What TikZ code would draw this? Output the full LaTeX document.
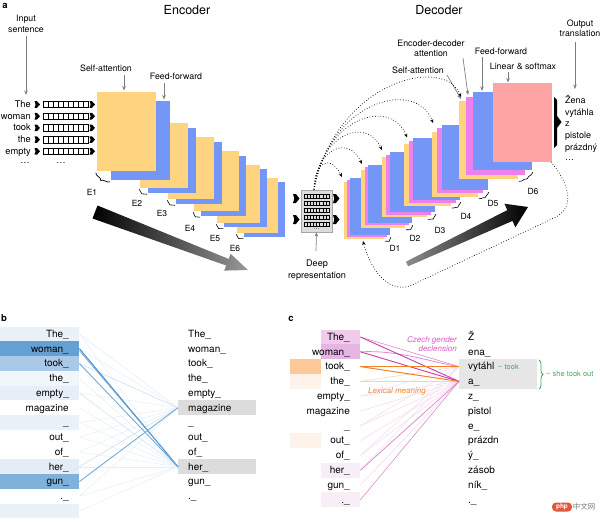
\documentclass[tikz,border=0pt]{standalone}
\usepackage{fontspec}
\setmainfont{TeX Gyre Heros}
\newfontfamily\cjkf{Noto Sans CJK SC}
\usetikzlibrary{decorations.pathreplacing,arrows.meta}
\definecolor{orangec}{HTML}{FFD480}
\definecolor{bluec}{HTML}{7396F7}
\definecolor{magc}{HTML}{EE80EE}
\definecolor{pinkc}{HTML}{FFA4A4}
\definecolor{arrg}{HTML}{7F7F7F}
\definecolor{deepg}{HTML}{DCDCDC}
\definecolor{hlg}{HTML}{DCDCDC}
\definecolor{bA}{HTML}{EAF2F9}
\definecolor{bB}{HTML}{64A0D2}
\definecolor{bC}{HTML}{AAC9E7}
\definecolor{bD}{HTML}{F1F6FB}
\definecolor{bE}{HTML}{E6EEF7}
\definecolor{bF}{HTML}{E4EDF6}
\definecolor{bG}{HTML}{80B1DB}
\definecolor{lnS}{HTML}{4D8FC7}
\definecolor{lnM}{HTML}{74AAD7}
\definecolor{lnL}{HTML}{CCE0F1}
\definecolor{lnF}{HTML}{E3EEF8}
\definecolor{mgS}{HTML}{C43FA8}
\definecolor{mgM}{HTML}{DE8ACF}
\definecolor{mgL}{HTML}{F5D5EF}
\definecolor{orS}{HTML}{F08228}
\definecolor{orL}{HTML}{F9D2B0}
\definecolor{cM1}{HTML}{F0CBEC}
\definecolor{cM2}{HTML}{E7B5E3}
\definecolor{cM3}{HTML}{F8EEF8}
\definecolor{cO1}{HTML}{FDC898}
\definecolor{cO2}{HTML}{FEF3EA}
\definecolor{grn}{HTML}{3DAA5A}
\definecolor{czm}{HTML}{D65CC3}
\definecolor{lxo}{HTML}{EE8A34}
\definecolor{phpred}{HTML}{E2553F}
\tikzset{
 lbl/.style={inner sep=0pt, font=\fontsize{8.8}{10}\selectfont},
 wordA/.style={inner sep=0pt, font=\fontsize{9.3}{10}\selectfont},
 wordB/.style={inner sep=0pt, font=\fontsize{10}{11}\selectfont},
 smalltxt/.style={inner sep=0pt, font=\fontsize{8.5}{9}\selectfont},
 panel/.style={inner sep=0pt, font=\bfseries\fontsize{9.5}{10}\selectfont},
 garrow/.style={draw=arrg, line width=0.7pt, -{Stealth[length=4.5pt,width=3.5pt]}},
 dotarr/.style={draw=black, line width=0.7pt, dotted, -{Stealth[length=4pt,width=3.5pt]}},
 ebrace/.style={draw=black, line width=0.6pt, decorate, decoration={brace, amplitude=2.5pt, raise=1.5pt}},
 bigbrace/.style={draw=black, line width=0.7pt, decorate, decoration={brace, amplitude=4pt, raise=2pt}},
}
\newcommand\enclayer[6]{%
  \fill[bluec] ({#1+#5},{#2+#6}) rectangle (#3,#4);
  \fill[orangec] (#1,#2) rectangle ({#3-#5},{#4-#6});
}
\newcommand\declayer[5]{%
  \fill[orangec] ({#1-2*#5},{#2+1.3*#5}) rectangle ({#3-2*#5},{#4+1.3*#5});
  \fill[magc] ({#1-#5},{#2+0.65*#5}) rectangle ({#3-#5},{#4+0.65*#5});
  \fill[bluec] (#1,#2) rectangle (#3,#4);
  \draw[ebrace] (#3,{#4+1}) -- ({#3-2*#5},{#4+1.3*#5+1});
}
\newcommand\blk[4]{%
  \fill (#1,{#2-#3}) -- ({#1+0.45*#4},{#2-#3}) -- ({#1+#4},#2) -- ({#1+0.45*#4},{#2+#3}) -- (#1,{#2+#3}) -- ({#1+0.2*#4},#2) -- cycle;}
\newcommand\cellstrip[6]{% x y n-1 w h lw
  \draw[black, line width=#6] (#1,{#2-#5/2}) rectangle ({#1+(#3+1)*#4},{#2+#5/2});
  \foreach \k in {1,...,#3} {\draw[black, line width=#6] ({#1+\k*#4},{#2-#5/2}) -- ({#1+\k*#4},{#2+#5/2});}
}
\begin{document}
\begin{tikzpicture}[x=1pt,y=-1pt]
\useasboundingbox (0,0) rectangle (600,523);

%%%%%%%%%%%% PANEL A %%%%%%%%%%%%
\node[panel,anchor=base] (la) at (5,8) {a};
\node[inner sep=0pt,font=\fontsize{12.5}{14}\selectfont,anchor=base] (enc) at (187,14.5) {Encoder};
\node[inner sep=0pt,font=\fontsize{12.5}{14}\selectfont,anchor=base] (dec) at (439,14.5) {Decoder};

% input sentence
\node[lbl,anchor=base] (inp1) at (26,21.5) {Input};
\node[lbl,anchor=base] (inp2) at (26,32) {sentence};
\coordinate (inpEnd) at (26,95);
\draw[garrow] (26,36) -- (inpEnd);

\foreach \w [count=\i from 0] in {The,woman,took,the,empty} {
  \pgfmathsetmacro\yy{104.5+11.7*\i}
  \node[wordA,anchor=base east] (in\i) at (31,{\yy+3}) {\w};
  \blk{34.5}{\yy}{3.3}{5.5}
  \cellstrip{43}{\yy}{8}{5}{6.5}{0.55pt}
  \blk{89.5}{\yy}{3.3}{5.5}
}
\node[wordA,anchor=base] (dotsA) at (25,163.5) {\dots};
\node[wordA,anchor=base] (dotsB) at (61,163.5) {\dots};

% encoder layers
\enclayer{237}{178}{285}{237}{7}{4}
\enclayer{217}{165}{267}{227}{7}{4}
\enclayer{194}{151}{246}{216}{7}{5}
\enclayer{168}{137}{222}{204}{8}{5}
\enclayer{140}{123}{196}{193}{8}{5}
\enclayer{97}{92}{170}{180}{14}{9}
\draw[ebrace] (244,237) -- (237,233);
\draw[ebrace] (224,227) -- (217,223);
\draw[ebrace] (201,216) -- (194,211);
\draw[ebrace] (176,204) -- (168,199);
\draw[ebrace] (148,193) -- (140,188);
\draw[bigbrace] (111,180) -- (97,171);
\node[smalltxt,anchor=base] (E1) at (92,195) {E1};
\node[smalltxt,anchor=base] (E2) at (137,206) {E2};
\node[smalltxt,anchor=base] (E3) at (162,216) {E3};
\node[smalltxt,anchor=base] (E4) at (190,231) {E4};
\node[smalltxt,anchor=base] (E5) at (215,241) {E5};
\node[smalltxt,anchor=base] (E6) at (235,251) {E6};

\node[lbl,anchor=base] (esa) at (106,71) {Self-attention};
\node[lbl,anchor=base] (eff) at (176,79) {Feed-forward};
\coordinate (esaT) at (124,90.5);
\coordinate (effT) at (164,99.5);
\draw[garrow] (124,75) -- (esaT);
\draw[garrow] (164,82.5) -- (effT);

% encoder gradient arrow
\shade[left color=black, right color=black!40] (97.5,205.5) -- (228.6,258.9) -- (230.6,253.8) -- (248,270) -- (224.2,270.6) -- (226.2,265.5) -- (92.5,218.5) -- cycle;

% deep representation
\blk{293}{198.5}{4.5}{6.5}
\blk{293}{219.5}{4.5}{6.5}
\node[draw=gray!70, fill=deepg, line width=0.4pt, minimum width=31pt, minimum height=42pt, inner sep=0pt] (deep) at (316.5,211) {};
\foreach \j in {0,...,4} {\cellstrip{304}{196+7*\j}{7}{3.125}{4}{0.4pt}}
\node[inner sep=0pt,font=\fontsize{6}{6}\selectfont,anchor=base] (ddots) at (316.5,229.5) {\dots};
\blk{333}{198.5}{4.5}{6.5}
\blk{333}{219.5}{4.5}{6.5}
\node[lbl,anchor=base,font=\fontsize{9.1}{10}\selectfont] (deep1) at (317,266) {Deep};
\node[lbl,anchor=base,font=\fontsize{9.1}{10}\selectfont] (deep2) at (317,278) {representation};
\draw[garrow] (316,251) -- (deep.south);

% decoder layers (later layers in front)
\declayer{350}{178}{390}{235}{3}
\declayer{368}{165}{412}{223}{3.5}
\declayer{390}{152}{435}{212}{4}
\declayer{413}{138}{460}{200}{4.5}
\declayer{442}{125}{488}{190}{5}
\declayer{473}{92}{532}{170}{7}
\node[fill=pinkc, minimum width=59pt, minimum height=79pt, inner sep=0pt, anchor=north west] (lin) at (492.5,83) {};

\node[smalltxt,anchor=base] (D1) at (395,251) {D1};
\node[smalltxt,anchor=base] (D2) at (415,241) {D2};
\node[smalltxt,anchor=base] (D3) at (440,233) {D3};
\node[smalltxt,anchor=base] (D4) at (466,219) {D4};
\node[smalltxt,anchor=base] (D5) at (493,206) {D5};
\node[smalltxt,anchor=base] (D6) at (533,194) {D6};

% decoder labels
\node[lbl,anchor=base] (eda1) at (431,46) {Encoder-decoder};
\node[lbl,anchor=base] (eda2) at (431,56) {attention};
\node[lbl,anchor=base] (dff) at (501,54) {Feed-forward};
\node[lbl,anchor=base] (lsm) at (523,69) {Linear \& softmax};
\node[lbl,anchor=base] (dsa) at (418,73) {Self-attention};
\coordinate (edaT) at (468,95);
\coordinate (dffT) at (482,91);
\coordinate (dsaT) at (461,99);
\coordinate (lsmT) at (508,82.5);
\draw[garrow] (463,58) -- (edaT);
\draw[garrow] (482,57) -- (dffT);
\draw[garrow] (508,72) -- (lsmT);
\draw[garrow] (447,75) -- (dsaT);

% output
\node[lbl,anchor=base] (out1) at (580,26) {Output};
\node[lbl,anchor=base] (out2) at (580,36) {translation};
\coordinate (outT) at (575,89);
\draw[garrow] (575,42) -- (outT);
\fill (554,97) -- (557,100) -- (557,116) -- (561.5,122) -- (557,128) -- (557,145) -- (554,148) -- cycle;
\foreach \w/\yy in {Žena/103,vytáhla/115,z/126,pistole/138,prázdný/150} {
  \node[wordA,anchor=base west,font=\fontsize{9}{10}\selectfont] at (565,\yy) {\w};
}
\node[wordA,anchor=base west,font=\fontsize{9}{10}\selectfont] (odots) at (565,160.5) {\dots};

% dotted attention arcs
\coordinate (dstart) at (314,189.5);
\coordinate (t1) at (342,177);
\coordinate (t2) at (362,164);
\coordinate (t3) at (382,150);
\coordinate (t4) at (407,137.5);
\coordinate (t5) at (433,123);
\coordinate (t6) at (461,97);
\draw[dotarr] (dstart) .. controls (314,163) and (330,153) .. (t1);
\draw[dotarr] (dstart) .. controls (316,148) and (349,135) .. (t2);
\draw[dotarr] (dstart) .. controls (320,132) and (367,117) .. (t3);
\draw[dotarr] (dstart) .. controls (325,115) and (392,98) .. (t4);
\draw[dotarr] (dstart) .. controls (330,100) and (416,78) .. (t5);
\draw[dotarr] (dstart) .. controls (336,80) and (445,55) .. (t6);
% feedback
\coordinate (fbS) at (551,162);
\coordinate (fbE) at (363,241);
\draw[dotarr] (fbS) .. controls (565,178) and (578,205) .. (556,217) -- (412,285) .. controls (392,294) and (372,275) .. (fbE);

% decoder gradient arrow
\shade[left color=black!45, right color=black] (405.9,261.7) -- (507.3,210.1) -- (504.4,203.7) -- (528,207) -- (515.4,227.3) -- (512.5,220.9) -- (408.1,266.3) -- cycle;

%%%%%%%%%%%% PANEL B %%%%%%%%%%%%
\node[panel,anchor=base] (lb) at (4,321) {b};
\foreach \cc [count=\i from 0] in {bA,bB,bC,bD,bE,white,bA,white,white,bF,bG,white,bA} {
  \node[fill=\cc, minimum width=79pt, minimum height=14.8pt, inner sep=0pt, anchor=west] (bl\i) at (0,{334+14.75*\i}) {};
}
\node[fill=hlg, minimum width=78pt, minimum height=14.75pt, inner sep=0pt, anchor=west] (bM) at (178,{334+14.75*5}) {};
\node[fill=hlg, minimum width=78pt, minimum height=14.75pt, inner sep=0pt, anchor=west] (bH) at (178,{334+14.75*9}) {};
% faint lines
\foreach \i in {0,3,5,6,7,8,9,11,12} {\draw[lnF, line width=0.5pt] (bl\i.east) -- (bH.west);}
\foreach \i in {0,1,4,6,7,8,11} {\draw[lnF, line width=0.5pt] (bl\i.east) -- (bM.west);}
\draw[lnL, line width=0.5pt] (bl4.east) -- (bH.west);
\draw[lnL, line width=0.6pt] (bl2.east) -- (bM.west);
\draw[lnL, line width=0.6pt] (bl9.east) -- (bM.west);
\draw[lnM, line width=0.9pt] (bl10.east) -- (bM.west);
\draw[lnM, line width=0.9pt] (bl2.east) -- (bH.west);
\draw[lnS, line width=1.1pt] (bl1.east) -- (bH.west);
\draw[lnM, line width=0.6pt] ([yshift=-2pt]bl1.east) -- (bH.west);
\foreach \w [count=\i from 0] in {The\_,woman\_,took\_,the\_,empty\_,magazine,\_,out\_,of\_,her\_,gun\_,.\_} {
  \node[wordB,anchor=base east] (bw\i) at (69,{334+14.75*\i+3.3}) {\w};
  \node[wordB,anchor=base west] (bv\i) at (188,{334+14.75*\i+3.3}) {\w};
}

%%%%%%%%%%%% PANEL C %%%%%%%%%%%%
\node[panel,anchor=base] (lc) at (291,321) {c};
\foreach \cc [count=\i from 0] in {white,white,cO1,cO2,white,white,white,cO2,white,white,white,white} {
  \node[fill=\cc, minimum width=31pt, minimum height=14.9pt, inner sep=0pt, anchor=west] (co\i) at (290,{337+14.8*\i}) {};
}
\foreach \cc [count=\i from 0] in {cM1,cM2,white,white,white,white,white,white,white,cM3,white,cM3} {
  \node[fill=\cc, minimum width=39pt, minimum height=14.9pt, inner sep=0pt, anchor=west] (cl\i) at (321,{337+14.8*\i}) {};
}
\node[fill=hlg!70, minimum width=78pt, minimum height=29.6pt, inner sep=0pt, anchor=north west] (cG) at (459,359.2) {};
\coordinate (cV) at (459,{337+14.8*2});
\coordinate (cA) at (459,{337+14.8*3});
% lines
\foreach \i in {4,5,6,7,8,10} {\draw[mgL, line width=0.5pt] (cl\i.east) -- (cA);}
\foreach \i in {4,6,8,9} {\draw[mgL, line width=0.4pt] (cl\i.east) -- (cV);}
\draw[orL, line width=0.5pt] (cl3.east) -- (cV);
\draw[orL, line width=0.5pt] (cl3.east) -- (cA);
\draw[mgM, line width=0.6pt] (cl11.east) -- (cA);
\draw[mgM, line width=0.8pt] (cl9.east) -- (cA);
\draw[mgM, line width=0.6pt] (cl0.east) -- (cV);
\draw[mgM, line width=0.8pt] (cl1.east) .. controls (400,350) and (430,362) .. (cV);
\draw[mgS, line width=0.9pt] (cl0.east) -- (cA);
\draw[mgS, line width=0.9pt] (cl1.east) -- (cA);
\draw[orS, line width=1pt] (cl2.east) -- (cV);
\draw[orS, line width=1pt] (cl2.east) -- (cA);
\foreach \w [count=\i from 0] in {The\_,woman\_,took\_,the\_,empty\_,magazine,\_,out\_,of\_,her\_,gun\_,.\_} {
  \node[wordB,anchor=base east] (cw\i) at (350,{337+14.8*\i+3.3}) {\w};
}
\foreach \w [count=\i from 0] in {Ž,ena\_,vytáhl,a\_,z\_,pistol,e\_,prázdn,ý\_,zásob,ník\_,.\_} {
  \node[wordB,anchor=base west] (cv\i) at (468,{337+14.8*\i+3.3}) {\w};
}
\node[inner sep=0pt,font=\itshape\fontsize{8}{9}\selectfont,text=czm,anchor=base east] (cz1) at (457,342) {Czech gender};
\node[inner sep=0pt,font=\itshape\fontsize{8}{9}\selectfont,text=czm,anchor=base east] (cz2) at (457,351) {declension};
\node[inner sep=0pt,font=\itshape\fontsize{8}{9}\selectfont,text=lxo,anchor=base] (lex) at (397,393) {Lexical meaning};
\node[inner sep=0pt,font=\fontsize{7.5}{8}\selectfont,text=grn,anchor=base west] (gt) at (498,369.5) {\textasciitilde\ took};
\draw[grn, line width=0.8pt, decorate, decoration={brace, amplitude=4pt}] (539,360) -- (539,389);
\node[inner sep=0pt,font=\fontsize{7.5}{8}\selectfont,text=grn,anchor=base west] (gs) at (546,376) {\textasciitilde\ she took out};

% watermark
\node[fill=phpred, rounded corners=4pt, text=white, font=\bfseries\fontsize{6.5}{7}\selectfont, minimum width=20pt, minimum height=9pt, inner sep=0pt] (php) at (562,507) {php};
\node[inner sep=0pt, font=\cjkf\fontsize{7.5}{8}\selectfont, text=gray] (zw) at (584,507) {中文网};
\end{tikzpicture}
\end{document}
